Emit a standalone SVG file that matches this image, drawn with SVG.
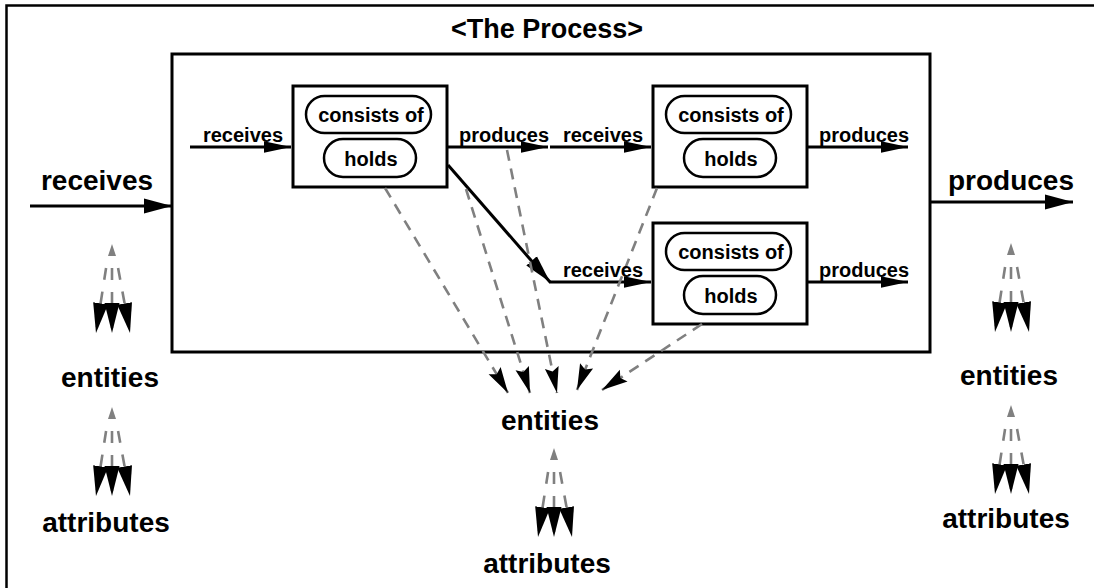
<svg xmlns="http://www.w3.org/2000/svg" width="1094" height="588" viewBox="0 0 1094 588">
<defs>
<style>
text{font-family:"Liberation Sans",Arial,Helvetica,sans-serif;font-weight:bold;fill:#000;text-anchor:middle}
.big{font-size:28px}
.small{font-size:20px}
.title{font-size:27px}
.box{fill:#fff;stroke:#000;stroke-width:3}
.pill{fill:#fff;stroke:#000;stroke-width:2.5}
.solid{stroke:#000;stroke-width:3;fill:none}
.dash{stroke:#808080;stroke-width:2.6;fill:none;stroke-dasharray:11 8}
.fan{stroke:#808080;stroke-width:2.6;fill:none;stroke-dasharray:12 12;stroke-dashoffset:18}
</style>
<marker id="ahBig" markerUnits="userSpaceOnUse" markerWidth="28" markerHeight="16" refX="28" refY="8" orient="auto"><path d="M0,0.5 L28,8 L0,15.5 z" fill="#000"/></marker>
<marker id="ahSmall" markerUnits="userSpaceOnUse" markerWidth="27" markerHeight="12" refX="27" refY="6" orient="auto"><path d="M0,0.3 L27,6 L0,11.7 z" fill="#000"/></marker>
<marker id="ahDiag" markerUnits="userSpaceOnUse" markerWidth="28" markerHeight="15" refX="28" refY="7.5" orient="auto"><path d="M0,0.5 L28,7.5 L0,14.5 z" fill="#000"/></marker>
<marker id="ahDash" markerUnits="userSpaceOnUse" markerWidth="26" markerHeight="16" refX="26" refY="8" orient="auto"><path d="M0,1 L26,8 L0,15 L4,8 z" fill="#000"/></marker>
<marker id="ahFan" markerUnits="userSpaceOnUse" markerWidth="30" markerHeight="16" refX="30" refY="8" orient="auto"><path d="M0,0.5 L30,8 L0,15.5 z" fill="#000"/></marker>
<g id="fanShape">
<path d="M0,0 L4,12 L-4,12 z" fill="#808080"/>
<line class="fan" x1="-5" y1="18" x2="-16" y2="89" marker-end="url(#ahFan)"/>
<line class="fan" x1="0" y1="18" x2="0" y2="89" marker-end="url(#ahFan)"/>
<line class="fan" x1="5" y1="18" x2="18" y2="89" marker-end="url(#ahFan)"/>
</g>
</defs>
<rect x="0" y="0" width="1094" height="588" fill="#fff"/>
<rect id="frame" x="6.5" y="5.5" width="1100" height="600" fill="none" stroke="#000" stroke-width="2.5"/>

<g id="process">
<rect class="box" x="172" y="54" width="758" height="298"/>
<text class="title" x="547" y="38">&lt;The Process&gt;</text>
</g>

<g id="step1">
<rect class="box" x="293" y="86" width="154" height="101"/>
<rect class="pill" x="306" y="96" width="125" height="37" rx="18.5"/>
<text class="small" x="371" y="122">consists of</text>
<rect class="pill" x="324" y="139" width="92" height="38" rx="19"/>
<text class="small" x="371" y="166">holds</text>
</g>
<g id="step2" transform="translate(360,0)">
<rect class="box" x="293" y="86" width="154" height="101"/>
<rect class="pill" x="306" y="96" width="125" height="37" rx="18.5"/>
<text class="small" x="371" y="122">consists of</text>
<rect class="pill" x="324" y="139" width="92" height="38" rx="19"/>
<text class="small" x="371" y="166">holds</text>
</g>
<g id="step3" transform="translate(360,137)">
<rect class="box" x="293" y="86" width="154" height="101"/>
<rect class="pill" x="306" y="96" width="125" height="37" rx="18.5"/>
<text class="small" x="371" y="122">consists of</text>
<rect class="pill" x="324" y="139" width="92" height="38" rx="19"/>
<text class="small" x="371" y="166">holds</text>
</g>

<g id="connectors">
<line class="solid" x1="30" y1="206" x2="172" y2="206" marker-end="url(#ahBig)"/>
<line class="solid" x1="930" y1="202" x2="1073" y2="202" marker-end="url(#ahBig)"/>
<line class="solid" x1="190" y1="147" x2="291" y2="147" marker-end="url(#ahSmall)"/>
<line class="solid" x1="447" y1="147" x2="548" y2="147" marker-end="url(#ahSmall)"/>
<line class="solid" x1="550" y1="147" x2="651" y2="147" marker-end="url(#ahSmall)"/>
<line class="solid" x1="807" y1="147" x2="908" y2="147" marker-end="url(#ahSmall)"/>
<line class="solid" x1="448" y1="165" x2="550" y2="282" marker-end="url(#ahDiag)"/>
<line class="solid" x1="549" y1="282" x2="651" y2="282" marker-end="url(#ahSmall)"/>
<line class="solid" x1="807" y1="282" x2="908" y2="282" marker-end="url(#ahSmall)"/>
<line class="dash" x1="385" y1="188" x2="508" y2="393" marker-end="url(#ahDash)"/>
<line class="dash" x1="466" y1="189" x2="530" y2="393" marker-end="url(#ahDash)"/>
<line class="dash" x1="507" y1="150" x2="557" y2="393" marker-end="url(#ahDash)"/>
<line class="dash" x1="657" y1="188" x2="577" y2="390" marker-end="url(#ahDash)"/>
<line class="dash" x1="702" y1="324" x2="602" y2="390" marker-end="url(#ahDash)"/>
<use href="#fanShape" transform="translate(112,244)"/>
<use href="#fanShape" transform="translate(112,407)"/>
<use href="#fanShape" transform="translate(554,448)"/>
<use href="#fanShape" transform="translate(1011,243)"/>
<use href="#fanShape" transform="translate(1011,405)"/>
</g>

<g id="labels">
<text class="big" x="97" y="190">receives</text>
<text class="big" x="1011" y="190">produces</text>
<text class="small" x="243" y="142">receives</text>
<text class="small" x="504" y="142">produces</text>
<text class="small" x="603" y="142">receives</text>
<text class="small" x="864" y="142">produces</text>
<text class="small" x="603" y="277">receives</text>
<text class="small" x="864" y="277">produces</text>
</g>

<g id="entities-left"><text class="big" x="110" y="387">entities</text></g>
<g id="attributes-left"><text class="big" x="106" y="532">attributes</text></g>
<g id="entities-center"><text class="big" x="550" y="430">entities</text></g>
<g id="attributes-center"><text class="big" x="547" y="573">attributes</text></g>
<g id="entities-right"><text class="big" x="1009" y="385">entities</text></g>
<g id="attributes-right"><text class="big" x="1006" y="528">attributes</text></g>
</svg>
